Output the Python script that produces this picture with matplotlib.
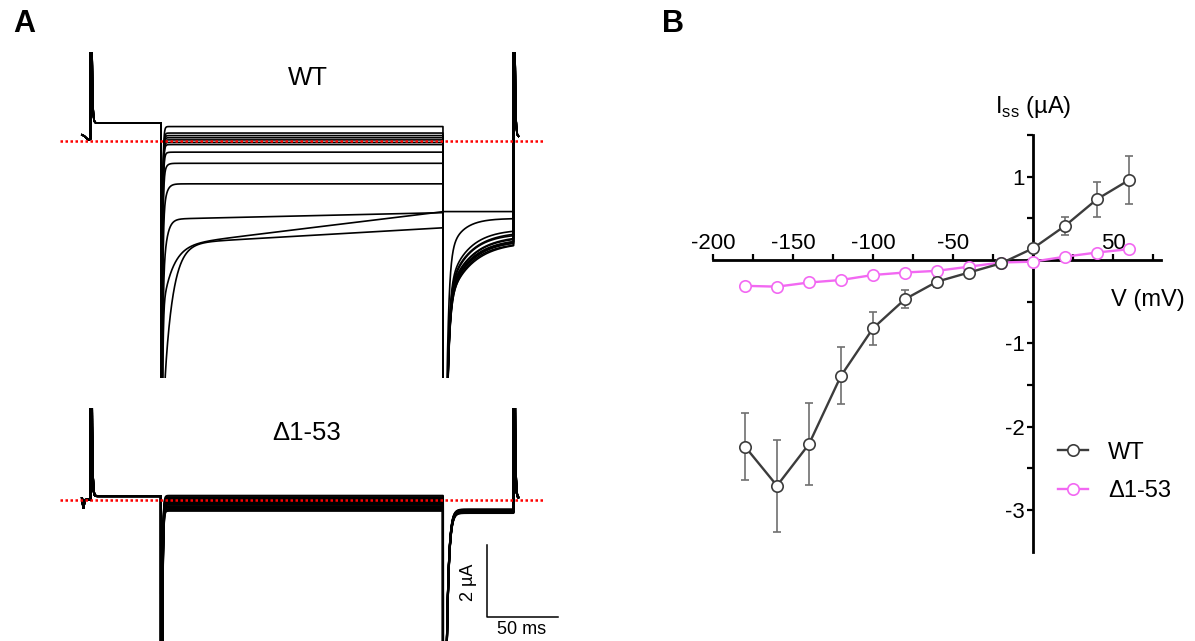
import numpy as np
import matplotlib
matplotlib.use("Agg")
import matplotlib.pyplot as plt

plt.rcParams['font.family'] = ['Liberation Sans', 'DejaVu Sans']
plt.rcParams['axes.unicode_minus'] = False

# ---------------- panel B : steady state I-V ----------------
volt = [-180, -160, -140, -120, -100, -80, -60, -40, -20, 0, 20, 40, 60]
wt_iss = [-2.24, -2.71, -2.21, -1.39, -0.82, -0.47, -0.26, -0.15, -0.04, 0.14, 0.41, 0.73, 0.96]
wt_sem = [0.40, 0.55, 0.49, 0.34, 0.20, 0.11, 0.06, 0.03, 0.02, 0.03, 0.11, 0.21, 0.29]
del_iss = [-0.31, -0.32, -0.27, -0.24, -0.18, -0.15, -0.13, -0.08, -0.03, -0.02, 0.04, 0.09, 0.13]

x_ticks = [-200, -175, -150, -125, -100, -75, -50, -25, 0, 25, 50, 75]
x_ticklabels = ['-200', '', '-150', '', '-100', '', '-50', '', '', '', '50', '']
y_ticks = [-3, -2.5, -2, -1.5, -1, -0.5, 0, 0.5, 1, 1.5]
y_ticklabels = ['-3', '', '-2', '', '-1', '', '', '', '1', '']

# ---------------- panel A : current traces (ms, uA) ----------------
# WT, one entry per voltage step
wt_hold = 0.5
wt_pre_t = [-6, -4.5, -1.5, 0]
wt_pre_i = [0.17, 0.14, 0.03, 0.05]
wt_step0 = [0.40, 0.22, 0.15, 0.09, 0.03, -0.04, -0.10, -0.31, -0.62, -1.19, -2.17, -2.92, -2.86]
wt_step1 = [0.40, 0.22, 0.15, 0.09, 0.03, -0.04, -0.10, -0.31, -0.62, -1.19, -1.99, -1.96, -2.41]
wt_relax_amp = [0, 0, 0, 0, 0, 0, -0.3, -0.6, -1.2, -2.0, -3.0, -2.0, -6.0]
wt_relax_tau = [1, 1, 1, 1, 1, 1, 1, 1.2, 1.5, 2.0, 2.5, 7.3, 6.0]
wt_tail_ss = [-2.45, -2.52, -2.57, -2.62, -2.66, -2.69, -2.72, -2.75, -2.78, -2.80, -2.15, -1.96, -2.82]
wt_tail_amp = [-2.0, -2.0, -2.1, -2.0, -2.1, -2.0, -2.1, -2.0, -2.1, -2.0, -1.4, 0.0, -2.1]
wt_tail_tau = [14, 15, 14, 16, 15, 17, 15, 16, 14, 17, 9.7, 1, 15]
wt_tail_spike = [-20, -20, -20, -20, -20, -20, -20, -20, -20, -20, -20, 0, -20]
wt_post = 0.12

# delta 1-53
del_hold = 0.11
del_pre_t = [-6, -5, -4, -1.5, 0]
del_pre_i = [0.05, -0.22, 0.0, 0.02, 0.0]
del_step = [0.12, 0.08, 0.05, 0.02, -0.01, -0.04, -0.07, -0.10, -0.13, -0.17, -0.21, -0.25, -0.30]
del_tail = [-0.26, -0.27, -0.28, -0.29, -0.30, -0.30, -0.31, -0.32, -0.33, -0.33, -0.34, -0.35, -0.36]
del_post = 0.06


def make_trace(hold, pre_t, pre_i, step0, step1, r_amp, r_tau,
               tail_ss, tail_amp, tail_tau, tail_spike, post):
    th = np.arange(0, 50, 0.05)
    ih = hold + 25 * np.exp(-th / 0.45)
    ts = np.arange(50, 250, 0.05)
    s = ts - 50
    is_ = step0 + (step1 - step0) * s / 200 + r_amp * np.exp(-s / r_tau) - 25 * np.exp(-s / 0.5)
    tt = np.arange(250, 300, 0.05)
    s = tt - 250
    it = tail_ss + tail_amp * np.exp(-s / tail_tau) + tail_spike * np.exp(-s / 1.6)
    tp = np.arange(300, 303.5, 0.05)
    ip = post + 25 * np.exp(-(tp - 300) / 0.45)
    t = np.concatenate([pre_t, th, ts, tt, tp])
    i = np.concatenate([pre_i, ih, is_, it, ip])
    return t, i


fig = plt.figure(figsize=(11.95, 6.41), dpi=100)

# WT traces
ax_wt = fig.add_axes([60 / 1195, 1 - 378 / 641, 485 / 1195, 326 / 641])
for k in range(len(wt_step0)):
    t, i = make_trace(wt_hold, wt_pre_t, wt_pre_i, wt_step0[k], wt_step1[k],
                      wt_relax_amp[k], wt_relax_tau[k], wt_tail_ss[k],
                      wt_tail_amp[k], wt_tail_tau[k], wt_tail_spike[k], wt_post)
    ax_wt.plot(t, i, color='black', lw=1.2)
ax_wt.axhline(0, color='red', lw=1.8, ls=(0, (1, 1)), zorder=5)
ax_wt.set_xlim(-21.6, 322.3)
ax_wt.set_ylim(-6.58, 2.47)
ax_wt.axis('off')
ax_wt.text(154.3, 1.75, 'WT', fontsize=18.5, ha='center', va='center')

# delta 1-53 traces
ax_del = fig.add_axes([60 / 1195, 0, 485 / 1195, 233 / 641])
for k in range(len(del_step)):
    t, i = make_trace(del_hold, del_pre_t, del_pre_i, del_step[k], del_step[k],
                      0, 1, del_tail[k], 0, 1, -20, del_post)
    ax_del.plot(t, i, color='black', lw=1.5)
ax_del.axhline(0, color='red', lw=1.8, ls=(0, (1, 1)), zorder=5)
ax_del.set_xlim(-21.6, 322.3)
ax_del.set_ylim(-3.92, 2.56)
ax_del.axis('off')
ax_del.text(153.5, 1.86, 'Δ1-53', fontsize=18.5, ha='center', va='center')

# scale bar: 50 ms x 2 uA
ax_del.plot([281.2, 281.2, 331.2], [-1.25, -3.25, -3.25], color='black', lw=1.1, clip_on=False)
ax_del.text(268.4, -2.28, '2 µA', fontsize=13, rotation=90, ha='center', va='center')
ax_del.text(306.0, -3.61, '50 ms', fontsize=13, ha='center', va='center', clip_on=False)

# I-V plot
ax = fig.add_axes([705 / 1195, 1 - 555.7 / 641, 464 / 1195, 424.8 / 641])
ax.errorbar(volt, wt_iss, yerr=wt_sem, fmt='none', ecolor='#707070', elinewidth=1.2,
            capsize=2.8, capthick=1.2, zorder=2)
ax.plot(volt, del_iss, color='#f268f2', lw=1.7, marker='o', ms=8.2, mfc='white',
        mec='#f268f2', mew=1.2, label='Δ1-53', zorder=3)
ax.plot(volt, wt_iss, color='#3c3c3c', lw=1.7, marker='o', ms=8.2, mfc='white',
        mec='#3c3c3c', mew=1.2, label='WT', zorder=4)

ax.set_xlim(-205, 85)
ax.set_ylim(-3.55, 1.55)
ax.spines['right'].set_visible(False)
ax.spines['top'].set_position(('data', 0))
ax.spines['top'].set_visible(False)
ax.spines['bottom'].set_position(('data', 0))
ax.spines['left'].set_position(('data', 0))
ax.spines['bottom'].set_bounds(-200, 80)
ax.spines['left'].set_bounds(-3.5, 1.5)
ax.spines['bottom'].set_linewidth(2.0)
ax.spines['left'].set_linewidth(2.0)
ax.set_xticks(x_ticks)
ax.set_xticklabels(x_ticklabels)
ax.set_yticks(y_ticks)
ax.set_yticklabels(y_ticklabels)
ax.tick_params(axis='x', bottom=False, top=True, labelbottom=False, labeltop=True,
               direction='out', length=4, width=1.6, pad=0, labelsize=16)
ax.tick_params(axis='y', direction='out', length=4.3, width=1.6, pad=1.5, labelsize=16)

ax.text(0, 1.84, 'I$_{\\mathregular{ss}}$ (µA)', fontsize=17, ha='center', va='center')
ax.text(72, -0.48, 'V (mV)', fontsize=17, ha='center', va='center', clip_on=False)

handles, labels = ax.get_legend_handles_labels()
ax.legend(handles[::-1], labels[::-1], loc='center left', bbox_to_anchor=(1058 / 1195, 0.2637),
          bbox_transform=fig.transFigure, frameon=False, fontsize=17, borderpad=0,
          borderaxespad=0, handlelength=1.27, handletextpad=0.85, labelspacing=0.7)

fig.text(24 / 1195, 1 - 24 / 641, 'A', fontsize=22, fontweight='bold', ha='center', va='center')
fig.text(673 / 1195, 1 - 24 / 641, 'B', fontsize=22, fontweight='bold', ha='center', va='center')

fig.savefig('out.png', dpi=100)
